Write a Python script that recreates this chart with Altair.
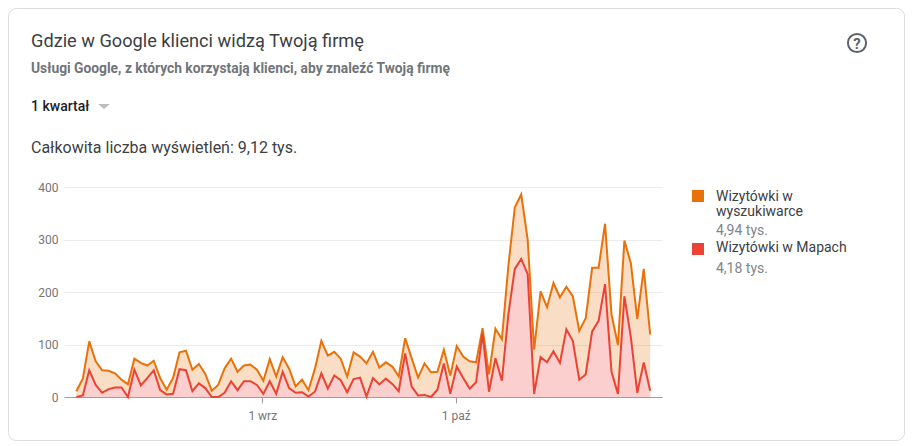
import altair as alt
import pandas as pd

search_values = [11, 35, 106, 68, 51, 50, 45, 33, 24, 73, 65, 60, 69, 36, 14, 36, 85, 88, 52, 63, 44, 12, 23, 55, 73, 48, 60, 62, 52, 31,
                 72, 39, 76, 54, 20, 33, 13, 54, 107, 79, 86, 73, 39, 85, 77, 64, 86, 56, 66, 58, 39, 112, 74, 37, 64, 47, 48, 90, 41, 97,
                 77, 68, 66, 131, 43, 130, 110, 249, 361, 386, 300, 90, 201, 171, 217, 190, 210, 192, 126, 150, 246, 246, 330, 157, 99, 298, 255, 149, 244, 119]
maps_values = [0, 3, 51, 23, 8, 15, 18, 18, 0, 52, 22, 36, 51, 13, 5, 6, 53, 51, 11, 26, 17, 0, 0, 8, 30, 13, 30, 30, 23, 6,
               30, 6, 48, 17, 8, 9, 1, 10, 45, 16, 41, 32, 9, 34, 37, 1, 36, 24, 35, 25, 11, 83, 20, 3, 4, 0, 14, 64, 6, 58,
               36, 16, 28, 121, 10, 74, 31, 157, 244, 263, 234, 6, 76, 66, 87, 65, 129, 107, 33, 43, 125, 145, 215, 48, 6, 192, 114, 8, 66, 12]
dates = pd.date_range("2020-08-03T04:00:00Z", periods=len(search_values), freq="D").strftime("%Y-%m-%dT%H:%M:%SZ").tolist()

ORANGE = "#e8710a"
RED = "#ea4335"
FONT = "Roboto"
LEFT, TOP, W, H = 64, 187, 598, 210

df = pd.DataFrame({"date": dates, "search": search_values, "maps": maps_values})

x = alt.X(
    "date:T",
    title=None,
    scale=alt.Scale(
        type="utc",
        domain=[alt.DateTime(year=2020, month=8, date=1, hours=6, utc=True),
                alt.DateTime(year=2020, month=11, date=2, hours=0, utc=True)],
    ),
    axis=alt.Axis(
        values=[alt.DateTime(year=2020, month=9, date=1, utc=True),
                alt.DateTime(year=2020, month=10, date=1, utc=True)],
        labelExpr="utcdate(datum.value) + ' ' + (utcmonth(datum.value) == 8 ? 'wrz' : 'paź')",
        grid=False, domainColor="#9e9e9e", tickColor="#9e9e9e", tickSize=6,
        labelColor="#757575", labelFont=FONT, labelFontSize=12, labelPadding=7, labelFlush=False,
    ),
)
y_axis = alt.Axis(
    values=[0, 100, 200, 300, 400], title=None, domain=False, ticks=False,
    gridColor="#ebebeb", labelColor="#757575", labelFont=FONT, labelFontSize=12, labelPadding=6,
)
y_scale = alt.Scale(domain=[0, 400], nice=False)

base = alt.Chart(df).encode(x=x)
search_area = base.mark_area(color=ORANGE, opacity=0.24).encode(y=alt.Y("search:Q", scale=y_scale, axis=y_axis))
maps_area = base.mark_area(color="#fbcfcd", opacity=1).encode(y=alt.Y("maps:Q", scale=y_scale))
search_line = base.mark_line(color=ORANGE, strokeWidth=2).encode(y=alt.Y("search:Q", scale=y_scale))
maps_line = base.mark_line(color=RED, strokeWidth=2).encode(y=alt.Y("maps:Q", scale=y_scale))

one = alt.Chart(pd.DataFrame({"a": [0]}))


def label(text, px, py, size=14, color="#3c4043", weight=400, align="left", font=FONT):
    return one.mark_text(text=text, align=align, baseline="middle", fontSize=size, color=color,
                         fontWeight=weight, font=font).encode(x=alt.value(px - LEFT), y=alt.value(py - TOP))


def box(x1, y1, x2, y2, **kw):
    return one.mark_rect(**kw).encode(x=alt.value(x1 - LEFT), x2=alt.value(x2 - LEFT),
                                      y=alt.value(y1 - TOP), y2=alt.value(y2 - TOP))


card = box(8.5, 8.5, 904.5, 440.5, fillOpacity=0, stroke="#dadce0", strokeWidth=1, cornerRadius=8)
texts = [
    label("Gdzie w Google klienci widzą Twoją firmę", 31, 42, size=18.2, color="#3c4043"),
    label("Usługi Google, z których korzystają klienci, aby znaleźć Twoją firmę", 31, 69, size=13.8, color="#70757a", weight=700),
    label("1 kwartał", 31, 107, size=14, color="#202124", weight=500),
    label("Całkowita liczba wyświetleń: 9,12 tys.", 31, 148, size=16, color="#3c4043"),
    one.mark_point(shape="M-1,-0.4L1,-0.4L0,0.4Z", filled=True, color="#bdbdbd", size=144, opacity=1).encode(x=alt.value(104 - LEFT), y=alt.value(106.5 - TOP)),
    one.mark_point(shape="circle", filled=False, color="#5f6368", size=330, strokeWidth=2, opacity=1).encode(x=alt.value(857 - LEFT), y=alt.value(43 - TOP)),
    label("?", 857, 44, size=15, color="#5f6368", weight=700, align="center"),
    box(692, 190, 704, 202, fill=ORANGE),
    box(692, 243, 704, 255, fill=RED),
    label("Wizytówki w", 716, 197),
    label("wyszukiwarce", 716, 212),
    label("4,94 tys.", 716, 231, color="#80868b"),
    label("Wizytówki w Mapach", 716, 248),
    label("4,18 tys.", 716, 269, color="#80868b"),
]

chart = alt.layer(card, search_area, maps_area, search_line, maps_line, *texts).properties(
    width=W, height=H,
    autosize=alt.AutoSizeParams(type="none"),
    padding={"left": LEFT - 8, "top": TOP - 8, "right": 243, "bottom": 44},
    background="white",
).configure_view(stroke=None)

chart.save("out.html", embed_options={"renderer": "svg", "actions": False})
